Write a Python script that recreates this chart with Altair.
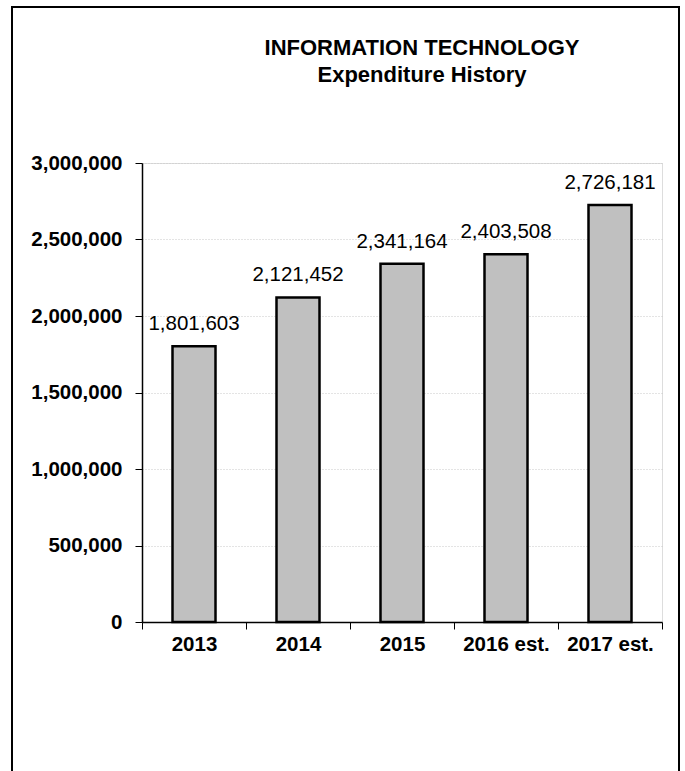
import altair as alt
import pandas as pd

categories = ["2013", "2014", "2015", "2016 est.", "2017 est."]
values = [1801603, 2121452, 2341164, 2403508, 2726181]
y_ticks = [0, 500000, 1000000, 1500000, 2000000, 2500000, 3000000]
title_line1 = "INFORMATION TECHNOLOGY"
title_line2 = "Expenditure History"

df = pd.DataFrame({"year": categories, "amount": values})
FONT = "Liberation Sans"
FS = 20.5

x_enc = alt.X(
    "year:N",
    sort=categories,
    title=None,
    scale=alt.Scale(paddingInner=0, paddingOuter=0),
    axis=alt.Axis(
        labelAngle=0,
        labelFont=FONT,
        labelFontSize=FS,
        labelFontWeight="bold",
        labelColor="black",
        labelPadding=5,
        tickBand="extent",
        tickSize=7,
        tickColor="black",
        domainColor="black",
        domainWidth=1.5,
        grid=False,
    ),
)
y_enc = alt.Y(
    "amount:Q",
    title=None,
    scale=alt.Scale(domain=[0, 3000000], nice=False),
    axis=alt.Axis(
        values=y_ticks,
        format=",.0f",
        labelFont=FONT,
        labelFontSize=FS,
        labelFontWeight="bold",
        labelColor="black",
        labelPadding=13,
        tickSize=7,
        tickColor="black",
        domainColor="black",
        domainWidth=1.5,
        grid=True,
        gridColor="#c8c8c8",
        gridDash=[1, 2],
        gridWidth=1,
    ),
)

base = alt.Chart(df)

frame = base.mark_rect(fill=None, stroke="black", strokeWidth=2).encode(
    x=alt.value(-130), x2=alt.value(537), y=alt.value(-156), y2=alt.value(640)
)

bars = base.mark_bar(size=43, color="#c0c0c0", stroke="black", strokeWidth=2.5).encode(
    x=x_enc, y=y_enc
)

labels = base.mark_text(
    font=FONT, fontSize=FS, color="black", baseline="alphabetic", dy=-16
).encode(x=x_enc, y=y_enc, text=alt.Text("amount:Q", format=",.0f"))

t1 = alt.Chart(pd.DataFrame({"t": [title_line1]})).mark_text(
    font=FONT, fontSize=22, fontWeight="bold", color="black", baseline="middle", align="center"
).encode(text="t:N", x=alt.value(280), y=alt.value(-115))

t2 = alt.Chart(pd.DataFrame({"t": [title_line2]})).mark_text(
    font=FONT, fontSize=22, fontWeight="bold", color="black", baseline="middle", align="center"
).encode(text="t:N", x=alt.value(280), y=alt.value(-88))

chart = (
    alt.layer(frame, bars, labels, t1, t2)
    .properties(
        width=520,
        height=459,
        padding={"left": 142, "top": 163, "right": 23, "bottom": 149},
        autosize=alt.AutoSizeParams(type="none"),
    )
    .configure_view(stroke="#808080", strokeWidth=2)
    .configure(background="white")
)

chart.save("out.html", embed_options={"renderer": "svg", "actions": False})
